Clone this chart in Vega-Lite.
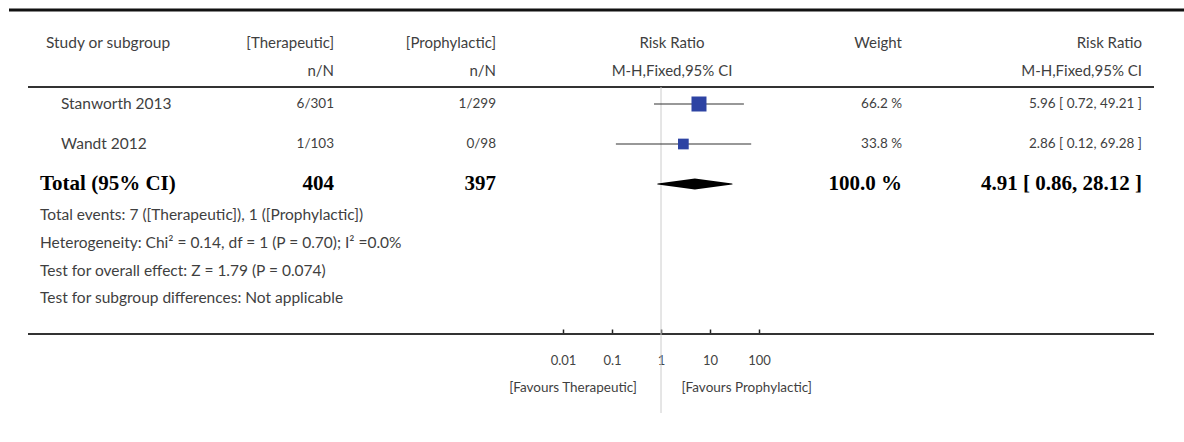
{
  "$schema": "https://vega.github.io/schema/vega-lite/v6.json",
  "width": 1184,
  "height": 334,
  "autosize": {"type": "none"},
  "padding": {"left": 0, "top": 0, "right": 0, "bottom": 108},
  "background": "white",
  "config": {"view": {"stroke": null}},
  "datasets": {
    "hlines": [
      {"row": 0, "from": 0, "to": 11, "line": "top"},
      {"row": 3, "from": 1, "to": 10, "line": "header"},
      {"row": 11, "from": 1, "to": 10, "line": "bottom"}
    ],
    "studies": [
      {"study": "Stanworth 2013", "row": 4, "rr": 5.96, "lo": 0.72, "hi": 49.21, "weight": 66.2},
      {"study": "Wandt 2012", "row": 5, "rr": 2.86, "lo": 0.12, "hi": 69.28, "weight": 33.8}
    ],
    "total": [
      {"row": 6, "rr": 0.86, "part": "lower"},
      {"row": 6, "rr": 4.91, "part": "estimate"},
      {"row": 6, "rr": 28.12, "part": "upper"}
    ],
    "cells": [
      {"row": 1, "col": 3, "text": "Study or subgroup"},
      {"row": 1, "col": 5, "text": "[Therapeutic]"},
      {"row": 1, "col": 6, "text": "[Prophylactic]"},
      {"row": 1, "col": 7, "text": "Risk Ratio"},
      {"row": 1, "col": 8, "text": "Weight"},
      {"row": 1, "col": 9, "text": "Risk Ratio"},
      {"row": 2, "col": 5, "text": "n/N"},
      {"row": 2, "col": 6, "text": "n/N"},
      {"row": 2, "col": 7, "text": "M-H,Fixed,95% CI"},
      {"row": 2, "col": 9, "text": "M-H,Fixed,95% CI"},
      {"row": 4, "col": 4, "text": "Stanworth 2013"},
      {"row": 4, "col": 5, "text": "6/301"},
      {"row": 4, "col": 6, "text": "1/299"},
      {"row": 4, "col": 8, "text": "66.2 %"},
      {"row": 4, "col": 9, "text": "5.96 [ 0.72, 49.21 ]"},
      {"row": 5, "col": 4, "text": "Wandt 2012"},
      {"row": 5, "col": 5, "text": "1/103"},
      {"row": 5, "col": 6, "text": "0/98"},
      {"row": 5, "col": 8, "text": "33.8 %"},
      {"row": 5, "col": 9, "text": "2.86 [ 0.12, 69.28 ]"},
      {"row": 6, "col": 2, "text": "Total (95% CI)"},
      {"row": 6, "col": 5, "text": "404"},
      {"row": 6, "col": 6, "text": "397"},
      {"row": 6, "col": 8, "text": "100.0 %"},
      {"row": 6, "col": 9, "text": "4.91 [ 0.86, 28.12 ]"},
      {"row": 7, "col": 2, "text": "Total events: 7 ([Therapeutic]), 1 ([Prophylactic])"},
      {"row": 8, "col": 2, "text": "Heterogeneity: Chi² = 0.14, df = 1 (P = 0.70); I² =0.0%"},
      {"row": 9, "col": 2, "text": "Test for overall effect: Z = 1.79 (P = 0.074)"},
      {"row": 10, "col": 2, "text": "Test for subgroup differences: Not applicable"},
      {"row": 12, "col": 12, "text": "[Favours Therapeutic]"},
      {"row": 12, "col": 13, "text": "[Favours Prophylactic]"}
    ]
  },
  "encoding": {
    "y": {
      "field": "row",
      "type": "quantitative",
      "axis": null,
      "scale": {
        "domain": [0, 1, 2, 3, 4, 5, 6, 7, 8, 9, 10, 11, 12, 13],
        "range": [10, 43, 71, 87, 104, 144, 184, 215, 243, 271, 298, 334, 388, 413],
        "nice": false,
        "zero": false
      }
    }
  },
  "layer": [
    {
      "data": {"name": "hlines"},
      "transform": [{"filter": {"field": "line", "equal": "top"}}],
      "mark": {"type": "rule", "color": "#111111", "strokeWidth": 3},
      "encoding": {
        "x": {"field": "from", "type": "quantitative", "axis": null,
          "scale": {"domain": [0,1,2,3,4,5,6,7,8,9,10,11,12,13], "range": [9,28,40,46,61,334,496,672,902,1142,1154,1184,637,812], "nice": false, "zero": false}},
        "x2": {"field": "to"}
      }
    },
    {
      "data": {"name": "hlines"},
      "transform": [{"filter": {"field": "line", "oneOf": ["header", "bottom"]}}],
      "mark": {"type": "rule", "color": "#333333", "strokeWidth": 2.2},
      "encoding": {
        "x": {"field": "from", "type": "quantitative", "axis": null,
          "scale": {"domain": [0,1,2,3,4,5,6,7,8,9,10,11,12,13], "range": [9,28,40,46,61,334,496,672,902,1142,1154,1184,637,812], "nice": false, "zero": false}},
        "x2": {"field": "to"}
      }
    },
    {
      "data": {"values": [{"row": 3, "end": 13}]},
      "mark": {"type": "rule", "color": "#cccccc", "strokeWidth": 1},
      "encoding": {
        "x": {"datum": 1, "type": "quantitative", "axis": null,
          "scale": {"type": "log", "domain": [0.01, 100], "range": [563, 759], "nice": false}},
        "y2": {"field": "end"}
      }
    },
    {
      "data": {"name": "studies"},
      "mark": {"type": "rule", "color": "#333333", "strokeWidth": 1.2},
      "encoding": {
        "x": {"field": "lo", "type": "quantitative",
          "scale": {"type": "log", "domain": [0.01, 100], "range": [563, 759], "nice": false},
          "axis": {"orient": "bottom", "values": [0.01, 0.1, 1, 10, 100], "format": "~g", "domain": false, "grid": false, "title": null,
            "ticks": true, "tickSize": -5, "tickWidth": 1.5, "tickColor": "#222222", "labelPadding": 25,
            "labelFont": "Lato", "labelFontSize": 13, "labelColor": "#444444", "labelFlush": false, "labelOverlap": false}},
        "x2": {"field": "hi"}
      }
    },
    {
      "data": {"name": "studies"},
      "mark": {"type": "point", "shape": "square", "filled": true, "color": "#2d43a3", "opacity": 1},
      "encoding": {
        "x": {"field": "rr", "type": "quantitative", "axis": null,
          "scale": {"type": "log", "domain": [0.01, 100], "range": [563, 759], "nice": false}},
        "size": {"field": "weight", "type": "quantitative", "legend": null, "scale": {"domain": [0, 66.2], "range": [0, 225]}}
      }
    },
    {
      "data": {"name": "total"},
      "mark": {"type": "trail", "color": "#000000"},
      "encoding": {
        "x": {"field": "rr", "type": "quantitative", "axis": null,
          "scale": {"type": "log", "domain": [0.01, 100], "range": [563, 759], "nice": false}},
        "size": {"field": "part", "type": "ordinal", "legend": null,
          "scale": {"type": "ordinal", "domain": ["lower", "estimate", "upper"], "range": [0, 11, 0]}}
      }
    },
    {
      "data": {"name": "cells"},
      "transform": [{"filter": {"and": [{"not": {"field": "row", "equal": 6}}, {"field": "col", "oneOf": [2, 3, 4]}]}}],
      "mark": {"type": "text", "align": "left", "baseline": "middle", "font": "Lato", "fontSize": 15.5, "color": "#3f3f3f"},
      "encoding": {
        "x": {"field": "col", "type": "quantitative", "axis": null,
          "scale": {"domain": [0,1,2,3,4,5,6,7,8,9,10,11,12,13], "range": [9,28,40,46,61,334,496,672,902,1142,1154,1184,637,812], "nice": false, "zero": false}},
        "text": {"field": "text"}
      }
    },
    {
      "data": {"name": "cells"},
      "transform": [{"filter": {"and": [{"field": "row", "oneOf": [1, 2]}, {"field": "col", "oneOf": [5, 6, 8, 9]}]}}],
      "mark": {"type": "text", "align": "right", "baseline": "middle", "font": "Lato", "fontSize": 15, "color": "#3f3f3f"},
      "encoding": {
        "x": {"field": "col", "type": "quantitative", "axis": null,
          "scale": {"domain": [0,1,2,3,4,5,6,7,8,9,10,11,12,13], "range": [9,28,40,46,61,334,496,672,902,1142,1154,1184,637,812], "nice": false, "zero": false}},
        "text": {"field": "text"}
      }
    },
    {
      "data": {"name": "cells"},
      "transform": [{"filter": {"and": [{"field": "row", "oneOf": [4, 5, 12]}, {"field": "col", "oneOf": [5, 6, 8, 9, 12, 13]}]}}],
      "mark": {"type": "text", "align": "right", "baseline": "middle", "font": "Lato", "fontSize": 13.5, "color": "#3f3f3f"},
      "encoding": {
        "x": {"field": "col", "type": "quantitative", "axis": null,
          "scale": {"domain": [0,1,2,3,4,5,6,7,8,9,10,11,12,13], "range": [9,28,40,46,61,334,496,672,902,1142,1154,1184,637,812], "nice": false, "zero": false}},
        "text": {"field": "text"}
      }
    },
    {
      "data": {"name": "cells"},
      "transform": [{"filter": {"field": "col", "equal": 7}}],
      "mark": {"type": "text", "align": "center", "baseline": "middle", "font": "Lato", "fontSize": 15, "color": "#3f3f3f"},
      "encoding": {
        "x": {"field": "col", "type": "quantitative", "axis": null,
          "scale": {"domain": [0,1,2,3,4,5,6,7,8,9,10,11,12,13], "range": [9,28,40,46,61,334,496,672,902,1142,1154,1184,637,812], "nice": false, "zero": false}},
        "text": {"field": "text"}
      }
    },
    {
      "data": {"name": "cells"},
      "transform": [{"filter": {"and": [{"field": "row", "equal": 6}, {"field": "col", "equal": 2}]}}],
      "mark": {"type": "text", "align": "left", "baseline": "middle", "font": "Liberation Serif", "fontWeight": "bold", "fontSize": 21, "color": "#000000"},
      "encoding": {
        "x": {"field": "col", "type": "quantitative", "axis": null,
          "scale": {"domain": [0,1,2,3,4,5,6,7,8,9,10,11,12,13], "range": [9,28,40,46,61,334,496,672,902,1142,1154,1184,637,812], "nice": false, "zero": false}},
        "text": {"field": "text"}
      }
    },
    {
      "data": {"name": "cells"},
      "transform": [{"filter": {"and": [{"field": "row", "equal": 6}, {"field": "col", "oneOf": [5, 6, 8, 9]}]}}],
      "mark": {"type": "text", "align": "right", "baseline": "middle", "font": "Liberation Serif", "fontWeight": "bold", "fontSize": 21, "color": "#000000"},
      "encoding": {
        "x": {"field": "col", "type": "quantitative", "axis": null,
          "scale": {"domain": [0,1,2,3,4,5,6,7,8,9,10,11,12,13], "range": [9,28,40,46,61,334,496,672,902,1142,1154,1184,637,812], "nice": false, "zero": false}},
        "text": {"field": "text"}
      }
    }
  ],
  "resolve": {"scale": {"x": "independent", "size": "independent"}}
}
